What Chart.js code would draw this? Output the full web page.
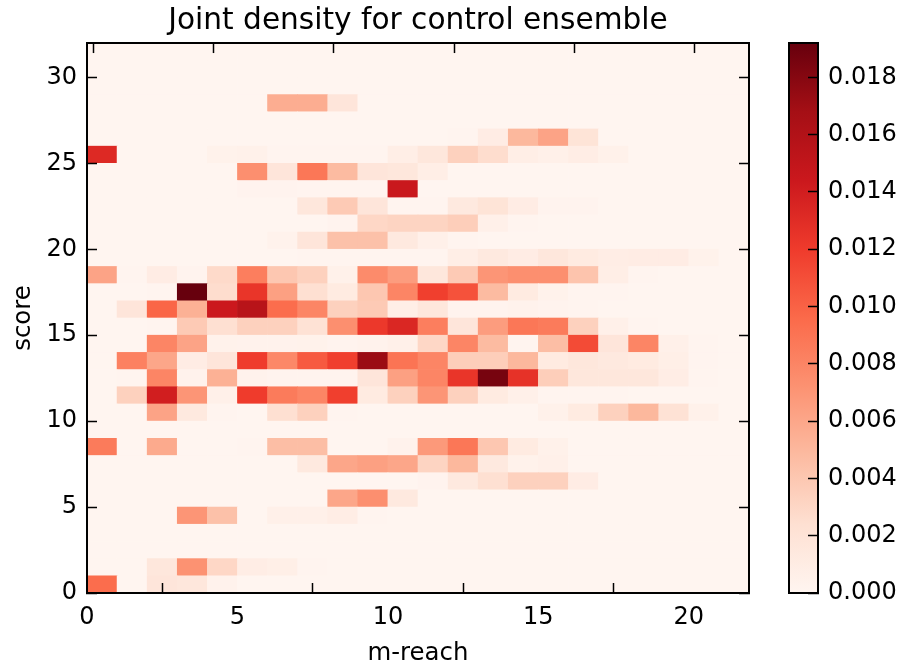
<!DOCTYPE html>
<html>
<head>
<meta charset="utf-8">
<script src="https://cdn.jsdelivr.net/npm/chart.js@4"></script>
<style>
  body { margin: 0; background: #fff; }
  canvas { position: absolute; top: 0; }
  #heatChart { left: 0; }
  #barChart { left: 780px; }
</style>
</head>
<body>
<canvas id="heatChart" width="900" height="661"></canvas>
<canvas id="barChart" width="120" height="661"></canvas>
<script>
// one array per score bin, one value per m-reach bin
const score0  = [.0094,0,.0018,.0016,.0003,0,0,0,0,0,0,0,0,0,0,0,0,0,0,0,0,0];
const score1  = [0,0,.0016,.0072,.0030,.0009,.0007,.0001,0,0,0,0,0,0,0,0,0,0,0,0,0,0];
const score2  = [0,0,0,0,0,0,0,0,0,0,0,0,0,0,0,0,0,0,0,0,0,0];
const score3  = [0,0,0,0,0,0,0,0,0,0,0,0,0,0,0,0,0,0,0,0,0,0];
const score4  = [0,0,0,.0070,.0044,0,.0006,.0006,.0009,.0001,0,0,0,0,0,0,0,0,0,0,0,0];
const score5  = [0,0,0,0,0,0,0,0,.0060,.0074,.0014,0,0,0,0,0,0,0,0,0,0,0];
const score6  = [0,0,0,0,0,0,0,0,0,0,0,.0002,.0014,.0024,.0034,.0034,.0010,0,0,0,0,0];
const score7  = [0,0,0,0,0,0,0,.0014,.0060,.0064,.0060,.0032,.0050,.0014,.0004,.0006,0,0,0,0,0,0];
const score8  = [.0086,0,.0058,0,0,.0001,.0046,.0046,0,0,.0003,.0068,.0088,.0040,.0012,.0005,0,0,0,0,0,0];
const score9  = [0,0,0,0,0,0,0,0,0,0,0,0,0,0,0,0,0,0,0,0,0,0];
const score10 = [0,0,.0062,.0014,.0001,0,.0024,.0034,.0001,0,0,0,0,0,0,.0005,.0012,.0034,.0050,.0022,.0005,0];
const score11 = [0,.0034,.0140,.0070,.0006,.0120,.0086,.0080,.0118,.0012,.0034,.0070,.0034,.0012,.0006,.0001,.0001,.0001,0,0,0,0];
const score12 = [0,.0001,.0080,.0003,.0054,.0003,.0002,.0002,.0002,.0018,.0064,.0080,.0124,.0186,.0126,.0036,.0016,.0016,.0016,.0009,.0001,0];
const score13 = [0,.0082,.0060,.0010,.0018,.0120,.0078,.0104,.0118,.0172,.0090,.0080,.0036,.0036,.0050,.0012,.0016,.0014,.0012,.0007,.0001,0];
const score14 = [0,0,.0080,.0062,.0004,.0003,.0003,.0004,.0002,.0003,.0006,.0030,.0080,.0048,.0001,.0046,.0112,.0018,.0080,.0006,.0001,0];
const score15 = [0,0,.0001,.0038,.0024,.0034,.0034,.0022,.0074,.0122,.0134,.0084,.0018,.0066,.0088,.0086,.0034,.0006,.0001,0,0,0];
const score16 = [0,.0018,.0098,.0054,.0144,.0156,.0094,.0080,.0034,.0038,.0008,.0016,.0002,.0002,.0003,.0002,.0001,0,0,0,0,0];
const score17 = [0,0,.0001,.0192,.0026,.0124,.0064,.0024,.0012,.0040,.0080,.0118,.0108,.0048,.0012,.0004,.0001,.0001,0,0,0,0];
const score18 = [.0062,.0001,.0010,.0002,.0028,.0084,.0040,.0034,.0005,.0076,.0066,.0016,.0038,.0070,.0074,.0074,.0042,.0008,.0001,0,0,0];
const score19 = [0,0,0,0,0,0,0,.0001,.0001,.0001,.0001,.0001,.0008,.0014,.0010,.0016,.0012,.0009,.0010,.0010,.0004,0];
const score20 = [0,0,0,0,0,0,.0003,.0018,.0044,.0044,.0014,.0006,.0001,0,0,0,0,0,0,0,0,0];
const score21 = [0,0,0,0,0,0,0,0,.0002,.0030,.0032,.0032,.0036,.0006,.0001,0,0,0,0,0,0,0];
const score22 = [0,0,0,0,0,0,0,.0016,.0038,.0018,.0001,.0001,.0014,.0020,.0010,.0002,.0002,0,0,0,0,0];
const score23 = [0,0,0,0,0,.0002,.0002,.0001,.0001,.0001,.0145,0,0,0,0,0,0,0,0,0,0,0];
const score24 = [0,0,0,0,0,.0074,.0018,.0088,.0048,.0018,.0016,.0008,0,0,0,0,0,0,0,0,0,0];
const score25 = [.0132,0,0,0,.0004,.0005,.0001,.0001,.0001,.0001,.0008,.0016,.0034,.0026,.0008,.0006,.0009,.0005,0,0,0,0];
const score26 = [0,0,0,0,0,0,0,0,0,0,0,0,.0001,.0010,.0050,.0062,.0020,0,0,0,0,0];
const score27 = [0,0,0,0,0,0,0,0,0,0,0,0,0,0,0,0,0,0,0,0,0,0];
const score28 = [0,0,0,0,0,0,.0056,.0056,.0018,0,0,0,0,0,0,0,0,0,0,0,0,0];
const score29 = [0,0,0,0,0,0,0,0,0,0,0,0,0,0,0,0,0,0,0,0,0,0];
const score30 = [0,0,0,0,0,0,0,0,0,0,0,0,0,0,0,0,0,0,0,0,0,0];
const score31 = [0,0,0,0,0,0,0,0,0,0,0,0,0,0,0,0,0,0,0,0,0,0];
const densityRows = [score0, score1, score2, score3, score4, score5, score6, score7, score8, score9,
  score10, score11, score12, score13, score14, score15, score16, score17, score18, score19, score20,
  score21, score22, score23, score24, score25, score26, score27, score28, score29, score30, score31];

const reachTicks = [0, 5, 10, 15, 20];
const scoreTicks = [0, 5, 10, 15, 20, 25, 30];
const barTicks = [0, .002, .004, .006, .008, .01, .012, .014, .016, .018];
const maxDensity = .0192;

// matplotlib Reds
const reds = [[255,245,240],[254,224,210],[252,187,161],[252,146,114],[251,106,74],[239,59,44],[203,24,29],[165,15,21],[103,0,13]];

function redFor(value) {
  const t = Math.min(value / maxDensity, 1) * (reds.length - 1);
  const i = Math.min(Math.floor(t), reds.length - 2);
  const f = t - i;
  const c = reds[i].map((v, k) => Math.round(v + (reds[i + 1][k] - v) * f));
  return `rgb(${c[0]},${c[1]},${c[2]})`;
}

const fontName = "'DejaVu Sans'";
const useTicks = list => scale => { scale.ticks = list.map(v => ({ value: v })); };
const fitTo = (prop, size) => scale => { scale[prop] = size; };

const tickGrid = { drawOnChartArea: false, tickLength: -10, tickWidth: 1.5, tickColor: '#000', z: 1 };
const frame = { color: '#000', width: 2, z: 2 };

new Chart(document.getElementById('heatChart'), {
  type: 'bar',
  data: {
    datasets: densityRows.map((row, j) => ({
      data: row.map((v, i) => ({ x: i + .5, y: [j, j + 1] })),
      backgroundColor: row.map(redFor),
      borderWidth: 0,
      grouped: false,
      barPercentage: 1,
      categoryPercentage: 1
    }))
  },
  options: {
    responsive: false,
    animation: false,
    layout: { padding: { right: 151 } },
    plugins: {
      legend: { display: false },
      tooltip: { enabled: false },
      title: {
        display: true,
        text: 'Joint density for control ensemble',
        fullSize: false,
        color: '#000',
        font: { family: fontName, size: 29.6, weight: 'normal', lineHeight: 1.15 },
        padding: { top: 4, bottom: 5 }
      }
    },
    scales: {
      x: {
        type: 'linear', position: 'bottom', min: 0, max: 22, offset: false,
        afterBuildTicks: useTicks(reachTicks),
        afterFit: fitTo('height', 68),
        grid: tickGrid, border: frame,
        ticks: { color: '#000', padding: 20, maxRotation: 0, autoSkip: false, font: { family: fontName, size: 24 } },
        title: { display: true, text: 'm-reach', color: '#000', padding: { top: 0, bottom: -7 }, font: { family: fontName, size: 24.4 } }
      },
      y: {
        type: 'linear', position: 'left', min: 0, max: 32,
        afterBuildTicks: useTicks(scoreTicks),
        afterFit: fitTo('width', 87),
        grid: tickGrid, border: frame,
        ticks: { color: '#000', padding: 20, autoSkip: false, font: { family: fontName, size: 24 } },
        title: { display: true, text: 'score', color: '#000', padding: { top: 9, bottom: 0 }, font: { family: fontName, size: 24.4 } }
      },
      xTop: {
        type: 'linear', position: 'top', min: 0, max: 22,
        afterBuildTicks: useTicks(reachTicks),
        afterFit: fitTo('height', 0),
        grid: tickGrid, border: frame,
        ticks: { display: false }
      },
      yRight: {
        type: 'linear', position: 'right', min: 0, max: 32,
        afterBuildTicks: useTicks(scoreTicks),
        afterFit: fitTo('width', 0),
        grid: tickGrid, border: frame,
        ticks: { display: false }
      }
    }
  }
});

// colour bar: one floating bar filled with the colormap
new Chart(document.getElementById('barChart'), {
  type: 'bar',
  data: {
    labels: ['density'],
    datasets: [{
      data: [[0, maxDensity]],
      borderWidth: 0,
      barPercentage: 1,
      categoryPercentage: 1,
      backgroundColor: ctx => {
        const area = ctx.chart.chartArea;
        if (!area) return '#fff';
        const grad = ctx.chart.ctx.createLinearGradient(0, area.bottom, 0, area.top);
        reds.forEach((c, i) => grad.addColorStop(i / (reds.length - 1), `rgb(${c[0]},${c[1]},${c[2]})`));
        return grad;
      }
    }]
  },
  options: {
    responsive: false,
    animation: false,
    layout: { padding: { left: 9, top: 43, bottom: 68 } },
    plugins: { legend: { display: false }, tooltip: { enabled: false } },
    scales: {
      x: {
        display: true,
        afterFit: fitTo('height', 0),
        grid: { display: false, drawTicks: false },
        border: frame,
        ticks: { display: false }
      },
      y: {
        position: 'right', min: 0, max: maxDensity,
        afterBuildTicks: useTicks(barTicks),
        afterFit: fitTo('width', 82),
        grid: tickGrid, border: frame,
        ticks: {
          color: '#000', padding: 20, autoSkip: false,
          font: { family: fontName, size: 24 },
          callback: v => v.toFixed(3)
        }
      },
      yFrame: {
        position: 'left', min: 0, max: maxDensity,
        afterFit: fitTo('width', 0),
        grid: { display: false, drawTicks: false },
        border: frame,
        ticks: { display: false }
      },
      xFrame: {
        position: 'top',
        afterFit: fitTo('height', 0),
        grid: { display: false, drawTicks: false },
        border: frame,
        ticks: { display: false }
      }
    }
  }
});
</script>
</body>
</html>
